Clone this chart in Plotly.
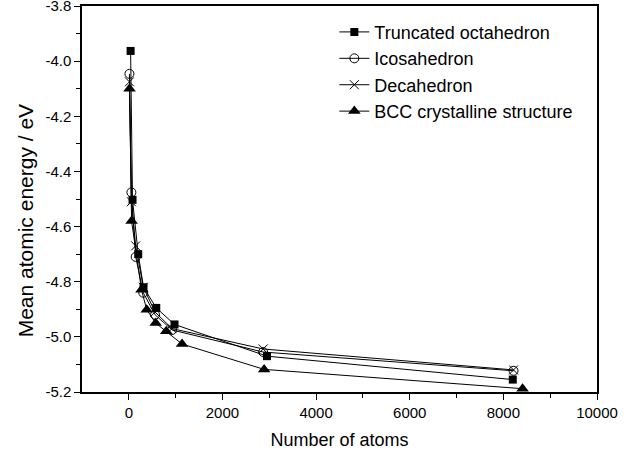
import plotly.graph_objects as go

# Truncated octahedron
to_x = [38, 79, 201, 314, 586, 976, 2951, 8201]
to_y = [-3.963, -4.503, -4.700, -4.820, -4.895, -4.955, -5.070, -5.155]
# Icosahedron
ih_x = [13, 55, 147, 309, 561, 923, 2869, 8217]
ih_y = [-4.046, -4.476, -4.710, -4.840, -4.920, -4.975, -5.055, -5.123]
# Decahedron
dh_x = [13, 55, 147, 309, 561, 923, 2869, 8217]
dh_y = [-4.075, -4.510, -4.670, -4.820, -4.910, -4.970, -5.044, -5.120]
# BCC crystalline structure
bcc_x = [15, 59, 270, 383, 574, 799, 1137, 2890, 8410]
bcc_y = [-4.100, -4.580, -4.829, -4.902, -4.950, -4.980, -5.026, -5.118, -5.188]

names = ["Truncated octahedron", "Icosahedron", "Decahedron", "BCC crystalline structure"]

x_tickvals = [0, 2000, 4000, 6000, 8000, 10000]
x_ticktext = ["0", "2000", "4000", "6000", "8000", "10000"]
y_tickvals = [-5.2, -5.0, -4.8, -4.6, -4.4, -4.2, -4.0, -3.8]
y_ticktext = ["-5.2", "-5.0", "-4.8", "-4.6", "-4.4", "-4.2", "-4.0", "-3.8"]

FONT = "Arial, Liberation Sans, sans-serif"

fig = go.Figure()
series = [
    (to_x, to_y, dict(symbol="square", size=8, color="black")),
    (ih_x, ih_y, dict(symbol="circle-open", size=9, color="black", line=dict(width=1, color="black"))),
    (dh_x, dh_y, dict(symbol="x-thin-open", size=9, color="black", line=dict(width=1, color="black"))),
    (bcc_x, bcc_y, dict(symbol="triangle-up", size=11, color="black")),
]
for (xs, ys, mk), nm in zip(series, names):
    fig.add_trace(go.Scatter(x=xs, y=ys, mode="lines+markers", name=nm,
                             line=dict(color="black", width=1), marker=mk))

axis_common = dict(showline=True, linecolor="black", linewidth=1.5, mirror=True,
                   ticks="outside", tickcolor="black", tickwidth=1.2, ticklen=6,
                   showgrid=False, zeroline=False, ticklabeloverflow="allow",
                   automargin=False,
                   tickfont=dict(family=FONT, size=15, color="black"))

fig.update_xaxes(range=[-1000, 10000], tickvals=x_tickvals, ticktext=x_ticktext,
                 minor=dict(tickvals=[1000, 3000, 5000, 7000, 9000], ticks="outside",
                            ticklen=4, tickcolor="black", tickwidth=1.2),
                 title_text="Number of atoms", title_standoff=14,
                 title_font=dict(family=FONT, size=18, color="black"), **axis_common)
fig.update_yaxes(range=[-5.2, -3.8], tickvals=y_tickvals, ticktext=y_ticktext,
                 minor=dict(tickvals=[-5.1, -4.9, -4.7, -4.5, -4.3, -4.1, -3.9], ticks="outside",
                            ticklen=4, tickcolor="black", tickwidth=1.2),
                 **axis_common)

fig.add_annotation(text="Mean atomic energy / eV", textangle=-90,
                   xref="paper", yref="paper", x=-0.11, y=0.443,
                   xanchor="center", yanchor="middle", showarrow=False,
                   font=dict(family=FONT, size=21, color="black"))

fig.update_layout(
    width=639, height=454,
    margin=dict(l=82, r=42, t=6, b=62, autoexpand=False),
    paper_bgcolor="white", plot_bgcolor="white",
    font=dict(family=FONT, color="black"),
    showlegend=True,
    legend=dict(x=0.49, y=0.98, xanchor="left", yanchor="top",
                bgcolor="rgba(0,0,0,0)", borderwidth=0,
                font=dict(family=FONT, size=18, color="black"),
                tracegroupgap=0),
)

fig.write_html("out.html")
